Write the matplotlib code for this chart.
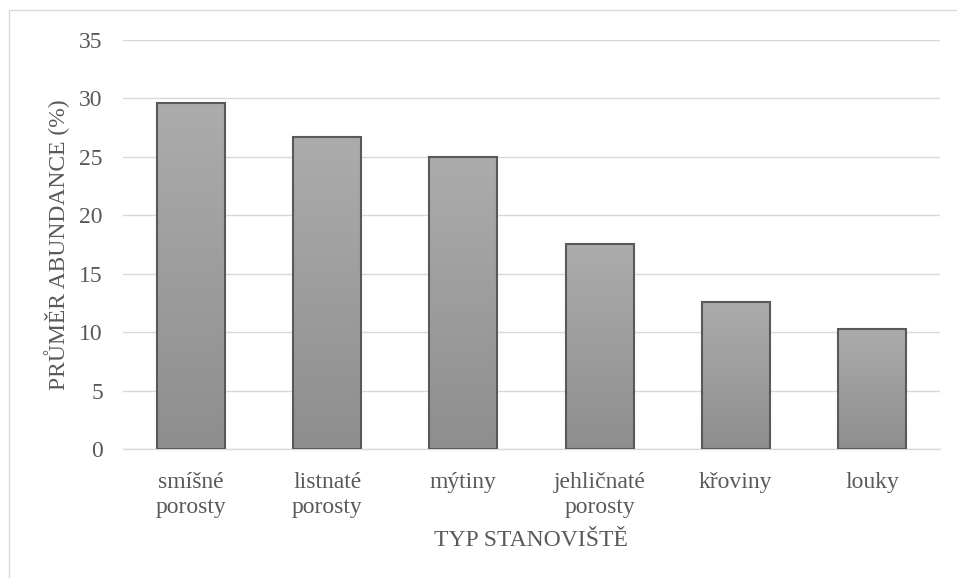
import matplotlib
matplotlib.use("Agg")
import matplotlib.pyplot as plt
import numpy as np
from matplotlib.patches import Rectangle
from matplotlib.colors import LinearSegmentedColormap

categories = ["smíšné\nporosty", "listnaté\nporosty", "mýtiny", "jehličnaté\nporosty", "křoviny", "louky"]
values = [29.6, 26.7, 25.0, 17.55, 12.6, 10.25]
yticks = [0, 5, 10, 15, 20, 25, 30, 35]

plt.rcParams['font.family'] = ['Liberation Serif', 'DejaVu Serif']
txt = '#595959'

fig = plt.figure(figsize=(9.57, 5.78), dpi=100)
W, H = 957, 578
ax = fig.add_axes([123 / W, (H - 449.3) / H, (940 - 123) / W, (449.3 - 39.5) / H])

# outer chart border
fig.patches.append(Rectangle((9 / W, -0.1), 1.2, (H - 10) / H + 0.1, transform=fig.transFigure,
                             fill=False, edgecolor='#d9d9d9', linewidth=1.0))

x = np.arange(len(categories))
bars = ax.bar(x, values, width=0.5, color='none', edgecolor='#595959', linewidth=1.5, zorder=3)
grad = np.linspace(0, 1, 256).reshape(-1, 1)
cmap = LinearSegmentedColormap.from_list('g', ['#8e8e8e', '#acacac'])
for b in bars:
    x0, y0, w, h = b.get_x(), b.get_y(), b.get_width(), b.get_height()
    im = ax.imshow(grad, extent=[x0, x0 + w, y0, y0 + h], origin='lower', cmap=cmap,
                   aspect='auto', zorder=2)
    im.set_clip_path(b)

ax.set_xlim(-0.5, len(categories) - 0.5)
ax.set_ylim(0, 35)
ax.set_yticks(yticks)
ax.set_xticks(x)
ax.set_xticklabels(categories, fontsize=17, color=txt, linespacing=1.25)
ax.tick_params(axis='y', labelsize=17, colors=txt, length=0, pad=14.5)
ax.tick_params(axis='x', length=0, pad=16.5)
ax.grid(axis='y', color='#d9d9d9', linewidth=1.0, zorder=0)
ax.set_axisbelow(True)
for s in ['top', 'right', 'left']:
    ax.spines[s].set_visible(False)
ax.spines['bottom'].set_color('#d9d9d9')
ax.spines['bottom'].set_linewidth(1.0)

fig.text(57 / W, 1 - 245 / H, "PRŮMĚR ABUNDANCE (%)", rotation=90, ha='center', va='center',
         fontsize=17, color=txt)
fig.text(531 / W, 1 - 540 / H, "TYP STANOVIŠTĚ", ha='center', va='center', fontsize=17, color=txt)

fig.savefig("out.png", dpi=100)
